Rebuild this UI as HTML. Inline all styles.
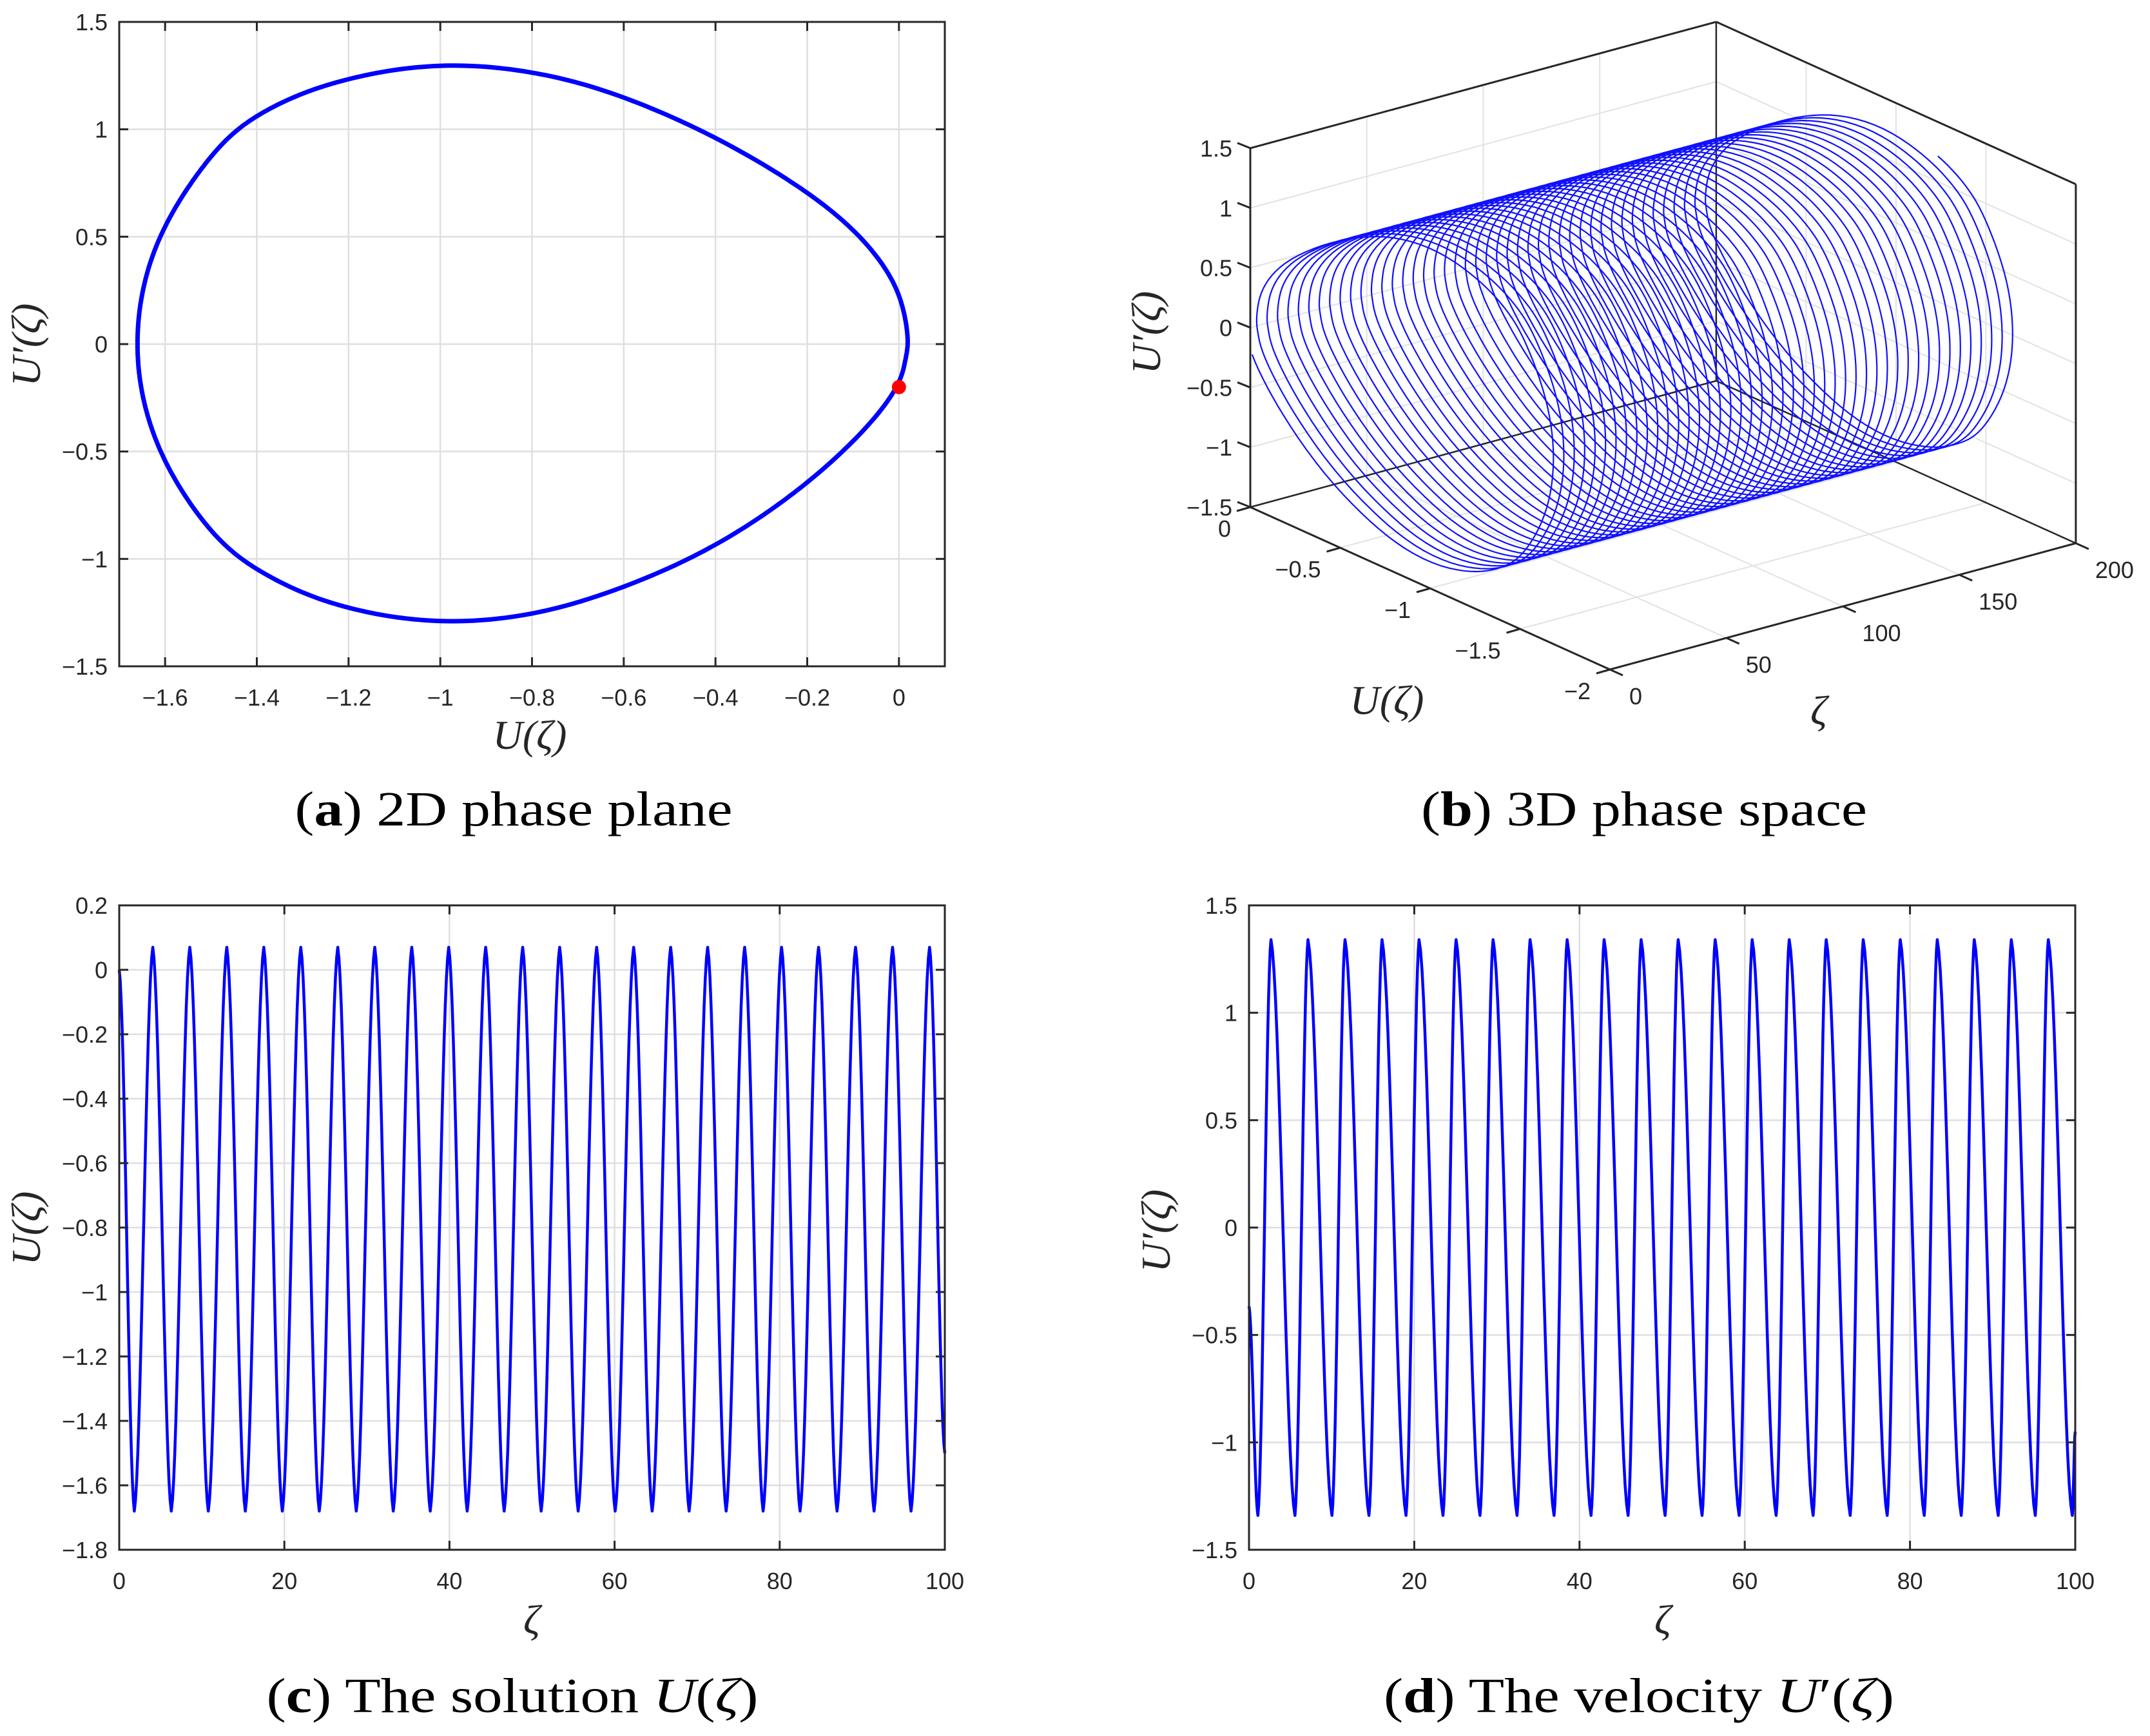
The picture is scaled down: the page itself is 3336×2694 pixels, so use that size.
<!DOCTYPE html>
<html><head><meta charset="utf-8"><style>
html,body{margin:0;padding:0;background:#fff;}
svg{display:block;}
.tk{font-family:"Liberation Sans",sans-serif;font-size:36px;fill:#262626;}
.ax{font-family:"Liberation Serif",serif;font-style:italic;font-size:64px;fill:#262626;}
.cap{font-family:"Liberation Serif",serif;font-size:76px;fill:#000;}
</style></head><body>
<svg id="fig" xmlns="http://www.w3.org/2000/svg" width="3336" height="2694" viewBox="0 0 3336 2694">
<rect width="3336" height="2694" fill="#fff"/>
<text class="cap" x="797" y="1281" text-anchor="middle" textLength="679" lengthAdjust="spacingAndGlyphs">(<tspan font-weight="bold">a</tspan>) 2D phase plane</text>
<text class="cap" x="2551" y="1281" text-anchor="middle" textLength="692" lengthAdjust="spacingAndGlyphs">(<tspan font-weight="bold">b</tspan>) 3D phase space</text>
<text class="cap" x="795" y="2657" text-anchor="middle" textLength="763" lengthAdjust="spacingAndGlyphs">(<tspan font-weight="bold">c</tspan>) The solution <tspan font-style="italic">U</tspan>(<tspan font-style="italic">ζ</tspan>)</text>
<text class="cap" x="2543" y="2657" text-anchor="middle" textLength="792" lengthAdjust="spacingAndGlyphs">(<tspan font-weight="bold">d</tspan>) The velocity <tspan font-style="italic">U</tspan>′(<tspan font-style="italic">ζ</tspan>)</text>
</svg>
<script>
// ---- data: phase-plane orbit (panel a, reused in panel b) ----
const phaseU  = [0.0,-0.091,-0.211,-0.405,-0.615,-0.794,-1.003,-1.183,-1.3,-1.4,-1.47,-1.541,-1.616,-1.654,-1.661,-1.654,-1.616,-1.541,-1.47,-1.4,-1.3,-1.183,-1.003,-0.794,-0.615,-0.405,-0.211,-0.091,-0.016,0.0105,0.021,0.013];
const phaseUp = [-0.2,-0.436,-0.668,-0.951,-1.144,-1.26,-1.299,-1.24,-1.16,-1.05,-0.94,-0.76,-0.488,-0.204,0,0.21,0.494,0.76,0.95,1.065,1.17,1.245,1.306,1.268,1.165,0.971,0.726,0.52,0.313,0.159,0,-0.074];
const startPoint = [0, -0.2];
// ---- panel a ticks ----
const aXTicks = [-1.6,-1.4,-1.2,-1,-0.8,-0.6,-0.4,-0.2,0];
const aYTicks = [-1.5,-1,-0.5,0,0.5,1,1.5];
// ---- panel c: solution extrema ----
const cTroughZ = [1.83,6.31,10.79,15.27,19.75,24.23,28.71,33.19,37.67,42.15,46.63,51.11,55.59,60.07,64.55,69.03,73.51,77.99,82.47,86.95,91.43,95.91];
const cTroughV = [-1.68,-1.68,-1.68,-1.68,-1.68,-1.68,-1.68,-1.68,-1.68,-1.68,-1.68,-1.68,-1.68,-1.68,-1.68,-1.68,-1.68,-1.68,-1.68,-1.68,-1.68,-1.68];
const cPeakZ = [4.07,8.55,13.03,17.51,21.99,26.47,30.95,35.43,39.91,44.39,48.87,53.35,57.83,62.31,66.79,71.27,75.75,80.23,84.71,89.19,93.67,98.15];
const cPeakV = [0.07,0.07,0.07,0.07,0.07,0.07,0.07,0.07,0.07,0.07,0.07,0.07,0.07,0.07,0.07,0.07,0.07,0.07,0.07,0.07,0.07,0.07];
const cEnds = [[0,0],[100,-1.5]];
const cYTicks = [-1.8,-1.6,-1.4,-1.2,-1,-0.8,-0.6,-0.4,-0.2,0,0.2];
const xTicks100 = [0,20,40,60,80,100];
// ---- panel d: velocity extrema ----
const dTroughZ = [1.08,5.56,10.04,14.52,19.00,23.48,27.96,32.44,36.92,41.40,45.88,50.36,54.84,59.32,63.80,68.28,72.76,77.24,81.72,86.20,90.68,95.16,99.64];
const dTroughV = [-1.34,-1.34,-1.34,-1.34,-1.34,-1.34,-1.34,-1.34,-1.34,-1.34,-1.34,-1.34,-1.34,-1.34,-1.34,-1.34,-1.34,-1.34,-1.34,-1.34,-1.34,-1.34,-1.34];
const dPeakZ = [2.66,7.14,11.62,16.10,20.58,25.06,29.54,34.02,38.50,42.98,47.46,51.94,56.42,60.90,65.38,69.86,74.34,78.82,83.30,87.78,92.26,96.74];
const dPeakV = [1.34,1.34,1.34,1.34,1.34,1.34,1.34,1.34,1.34,1.34,1.34,1.34,1.34,1.34,1.34,1.34,1.34,1.34,1.34,1.34,1.34,1.34];
const dEnds = [[0,-0.367],[100,-0.95]];
const dYTicks = [-1.5,-1,-0.5,0,0.5,1,1.5];
// ---- panel b ----
const bPeriod = [4.48];
const bZetaRange = [0,200];
const bUTicks = [0,-0.5,-1,-1.5,-2];
const bZetaTicks = [0,50,100,150,200];
const bZTicks = [-1.5,-1,-0.5,0,0.5,1,1.5];

const NS = "http://www.w3.org/2000/svg";
const svg = document.getElementById('fig');
function mk(tag, attrs, name, parent) {
  const el = document.createElementNS(NS, tag);
  for (const k in attrs) el.setAttribute(k, attrs[k]);
  
  
  (parent || svg).appendChild(el);
  return el;
}
function fmt(v){ const s = (Math.round(v*100)/100).toString(); return s.replace('-', '\u2212'); }
const YS = 0.47;
function ccr(P0,P1,P2,P3,t){
  const dist=(a,b)=>Math.pow(Math.hypot(b[0]-a[0],(b[1]-a[1])*YS),0.5)||1e-6;
  const t0=0,t1=t0+dist(P0,P1),t2=t1+dist(P1,P2),t3=t2+dist(P2,P3);
  const tt=t1+(t2-t1)*t;
  const L=(A,B,ta,tb)=>[ (tb-tt)/(tb-ta)*A[0]+(tt-ta)/(tb-ta)*B[0], (tb-tt)/(tb-ta)*A[1]+(tt-ta)/(tb-ta)*B[1] ];
  const A1=L(P0,P1,t0,t1),A2=L(P1,P2,t1,t2),A3=L(P2,P3,t2,t3);
  const B1=L(A1,A2,t0,t2),B2=L(A2,A3,t1,t3);
  return L(B1,B2,t1,t2);
}
function phaseAtRaw(s){
  const N = phaseU.length; const i = Math.floor(s)%N; const t = s-Math.floor(s);
  const g=k=>{const j=((k%N)+N)%N;return [phaseU[j],phaseUp[j]];};
  return ccr(g(i-1),g(i),g(i+1),g(i+2),t);
}
const SM = 20, NN = phaseU.length*SM;
const rawTab = []; for(let i=0;i<NN;i++) rawTab.push(phaseAtRaw(i/SM));
const smTab = [];
for(let i=0;i<NN;i++){ let su=0,sv=0,W=14,c=0; for(let j=-W;j<=W;j++){const p=rawTab[(i+j+NN)%NN]; su+=p[0]; sv+=p[1]; c++;} smTab.push([su/c, sv/c]); }
function phaseAt(s){ const x=s*SM; const i=Math.floor(x); const t=x-i; const a=smTab[((i%NN)+NN)%NN], b=smTab[(((i+1)%NN)+NN)%NN]; return [a[0]+(b[0]-a[0])*t, a[1]+(b[1]-a[1])*t]; }
function wave(troughZ, troughV, peakZ, peakV, ends){
  let knots = [ends[0]];
  troughZ.forEach((z,i)=>knots.push([z,troughV[i]]));
  peakZ.forEach((z,i)=>knots.push([z,peakV[i]]));
  knots.push(ends[1]);
  knots.sort((a,b)=>a[0]-b[0]);
  const pts=[];
  for(let k=0;k<knots.length-1;k++){
    const [z0,v0]=knots[k],[z1,v1]=knots[k+1];
    for(let j=0;j<16;j++){const tau=j/16;const f=0.82*(1-Math.cos(Math.PI*tau))/2+0.18*tau;pts.push([z0+(z1-z0)*tau,v0+(v1-v0)*f]);}
  }
  pts.push(knots[knots.length-1]);
  return pts;
}
function axes2d(g, box, xr, yr, xt, yt, prefix){
  const sx=v=>box.l+(v-xr[0])/(xr[1]-xr[0])*(box.r-box.l);
  const sy=v=>box.b-(v-yr[0])/(yr[1]-yr[0])*(box.b-box.t);
  xt.forEach(v=>{const x=sx(v);
    mk('line',{x1:x,y1:box.t,x2:x,y2:box.b,stroke:'#dfdfdf','stroke-width':2.5},prefix+'-x-gridline',g);});
  yt.forEach(v=>{const y=sy(v);
    mk('line',{x1:box.l,y1:y,x2:box.r,y2:y,stroke:'#dfdfdf','stroke-width':2.5},prefix+'-y-gridline',g);});
  return {sx,sy};
}
function frame2d(g, box, sx, sy, xt, yt, prefix){
  mk('rect',{x:box.l,y:box.t,width:box.r-box.l,height:box.b-box.t,fill:'none',stroke:'#262626','stroke-width':3},prefix+'-axes-box',g);
  xt.forEach(v=>{const x=sx(v);
    mk('line',{x1:x,y1:box.b,x2:x,y2:box.b-14,stroke:'#262626','stroke-width':3},prefix+'-x-tick',g);
    mk('line',{x1:x,y1:box.t,x2:x,y2:box.t+14,stroke:'#262626','stroke-width':3},prefix+'-x-tick-top',g);
    const t=mk('text',{x:x,y:box.b+61,'text-anchor':'middle',class:'tk'},prefix+'-x-tick-label',g); t.textContent=fmt(v);});
  yt.forEach(v=>{const y=sy(v);
    mk('line',{x1:box.l,y1:y,x2:box.l+14,y2:y,stroke:'#262626','stroke-width':3},prefix+'-y-tick',g);
    mk('line',{x1:box.r,y1:y,x2:box.r-14,y2:y,stroke:'#262626','stroke-width':3},prefix+'-y-tick-right',g);
    const t=mk('text',{x:box.l-18,y:y+13,'text-anchor':'end',class:'tk'},prefix+'-y-tick-label',g); t.textContent=fmt(v);});
}
function axisLabels(g, xl, yl, xText, yText, prefix){
  const a=mk('text',{x:xl[0],y:xl[1],'text-anchor':'middle',class:'ax'},prefix+'-x-axis-title',g); a.textContent=xText;
  const b=mk('text',{x:0,y:0,'text-anchor':'middle',class:'ax',transform:`translate(${yl[0]},${yl[1]}) rotate(-90)`},prefix+'-y-axis-title',g); b.textContent=yText;
}
const UZ='U(ζ)', UPZ='U′(ζ)';

// ===== Panel a =====
{
  const g=mk('g',{},'panel-a-phase-plane');
  const box={l:185,r:1466,t:34,b:1034};
  const {sx,sy}=axes2d(g,box,[-1.7,0.1],[-1.5,1.5],aXTicks,aYTicks,'a');
  let d='';
  smTab.forEach((p,i)=>{d+=(i?'L':'M')+sx(p[0]).toFixed(1)+' '+sy(p[1]).toFixed(1);});
  mk('path',{d:d+'Z',fill:'none',stroke:'#0000ff','stroke-width':7,'stroke-linejoin':'round'},'phase-orbit',g);
  mk('circle',{cx:sx(startPoint[0]),cy:sy(startPoint[1]),r:11,fill:'#ff0000'},'initial-point-marker',g);
  frame2d(g,box,sx,sy,aXTicks,aYTicks,'a');
  axisLabels(g,[822,1162],[62,535],UZ,UPZ,'a');
}
// ===== Panel c =====
{
  const g=mk('g',{},'panel-c-solution');
  const box={l:185,r:1466,t:1405,b:2405};
  const {sx,sy}=axes2d(g,box,[0,100],[-1.8,0.2],xTicks100,cYTicks,'c');
  const pts=wave(cTroughZ,cTroughV,cPeakZ,cPeakV,cEnds);
  mk('path',{d:pts.map((p,i)=>(i?'L':'M')+sx(p[0]).toFixed(1)+' '+sy(p[1]).toFixed(1)).join(''),fill:'none',stroke:'#0000ff','stroke-width':4.5,'stroke-linejoin':'round'},'solution-line',g);
  frame2d(g,box,sx,sy,xTicks100,cYTicks,'c');
  axisLabels(g,[825,2535],[62,1906],'ζ',UZ,'c');
}
// ===== Panel d =====
{
  const g=mk('g',{},'panel-d-velocity');
  const box={l:1938,r:3220,t:1405,b:2405};
  const {sx,sy}=axes2d(g,box,[0,100],[-1.5,1.5],xTicks100,dYTicks,'d');
  const pts=wave(dTroughZ,dTroughV,dPeakZ,dPeakV,dEnds);
  mk('path',{d:pts.map((p,i)=>(i?'L':'M')+sx(p[0]).toFixed(1)+' '+sy(p[1]).toFixed(1)).join(''),fill:'none',stroke:'#0000ff','stroke-width':4.5,'stroke-linejoin':'round'},'velocity-line',g);
  frame2d(g,box,sx,sy,xTicks100,dYTicks,'d');
  axisLabels(g,[2580,2535],[1815,1910],'ζ',UPZ,'d');
}
// ===== Panel b (3D) =====
{
  const g=mk('g',{},'panel-b-3d-phase-space');
  const P=(u,z,zeta)=>[1940-279*u+3.6145*zeta, 787-126*u-0.98*zeta-185.7*(z+1.5)];
  const line=(a,b,stroke,w,name)=>mk('line',{x1:a[0],y1:a[1],x2:b[0],y2:b[1],stroke:stroke,'stroke-width':w},name,g);
  const Zmin=-1.5,Zmax=1.5,Z0=bZetaRange[0],Z1=bZetaRange[1];
  const gc='#e2e2e2';
  bZTicks.forEach(z=>{line(P(0,z,Z0),P(0,z,Z1),gc,2,'b-wall-z-gridline');line(P(0,z,Z1),P(-2,z,Z1),gc,2,'b-wall-z-gridline');});
  bZetaTicks.forEach(t=>{line(P(0,Zmin,t),P(0,Zmax,t),gc,2,'b-wall-zeta-gridline');line(P(0,Zmin,t),P(-2,Zmin,t),gc,2,'b-floor-zeta-gridline');});
  bUTicks.forEach(u=>{line(P(u,Zmin,Z1),P(u,Zmax,Z1),gc,2,'b-wall-u-gridline');line(P(u,Zmin,Z0),P(u,Zmin,Z1),gc,2,'b-floor-u-gridline');});
  const k='#262626';
  line(P(0,Zmin,Z0),P(0,Zmin,Z1),k,2.5,'b-floor-back-edge');
  line(P(0,Zmin,Z1),P(-2,Zmin,Z1),k,2.5,'b-floor-back-edge');
  line(P(0,Zmin,Z1),P(0,Zmax,Z1),k,2.5,'b-back-vertical-edge');
  const N=phaseU.length, per=bPeriod[0];
  let d='';
  const steps=Math.round((Z1-Z0)/per*N*4);
  for(let i=0;i<=steps;i++){
    const zeta=Z0+(Z1-Z0)*i/steps;
    const s=((zeta-Z0)/per*N)%N;
    const p=phaseAt(s);
    const q=P(p[0],p[1],zeta);
    d+=(i?'L':'M')+q[0].toFixed(1)+' '+q[1].toFixed(1);
  }
  mk('path',{d:d,fill:'none',stroke:'#1010ff','stroke-width':2.2,'stroke-linejoin':'round'},'helix-trajectory',g);
  line(P(0,Zmin,Z0),P(0,Zmax,Z0),k,3,'b-left-vertical-edge');
  line(P(-2,Zmin,Z1),P(-2,Zmax,Z1),k,3,'b-right-vertical-edge');
  line(P(0,Zmax,Z0),P(0,Zmax,Z1),k,3,'b-top-back-edge');
  line(P(0,Zmax,Z1),P(-2,Zmax,Z1),k,3,'b-top-right-edge');
  line(P(0,Zmin,Z0),P(-2,Zmin,Z0),k,3,'b-u-axis-line');
  line(P(-2,Zmin,Z0),P(-2,Zmin,Z1),k,3,'b-zeta-axis-line');
  bZTicks.forEach(z=>{const a=P(0,z,Z0);line(a,[a[0]-20,a[1]-8],k,3,'b-z-tick');
    const t=mk('text',{x:1912,y:a[1]+13,'text-anchor':'end',class:'tk'},'b-z-tick-label',g);t.textContent=fmt(z);});
  bUTicks.forEach(u=>{const a=P(u,Zmin,Z0);line(a,[a[0]-21,a[1]+6],k,3,'b-u-tick');
    const t=mk('text',{x:a[0]-30,y:a[1]+46,'text-anchor':'end',class:'tk'},'b-u-tick-label',g);t.textContent=fmt(u);});
  bZetaTicks.forEach(zt=>{const a=P(-2,Zmin,zt);line(a,[a[0]+20,a[1]+9],k,3,'b-zeta-tick');
    const t=mk('text',{x:a[0]+30,y:a[1]+54,'text-anchor':'start',class:'tk'},'b-zeta-tick-label',g);t.textContent=fmt(zt);});
  const xl=mk('text',{x:2152,y:1108,'text-anchor':'middle',class:'ax'},'b-u-axis-title',g);xl.textContent=UZ;
  const zl=mk('text',{x:2822,y:1124,'text-anchor':'middle',class:'ax'},'b-zeta-axis-title',g);zl.textContent='ζ';
  const yl=mk('text',{x:0,y:0,'text-anchor':'middle',class:'ax',transform:'translate(1800,516) rotate(-90)'},'b-z-axis-title',g);yl.textContent=UPZ;
}
</script>
</body></html>
